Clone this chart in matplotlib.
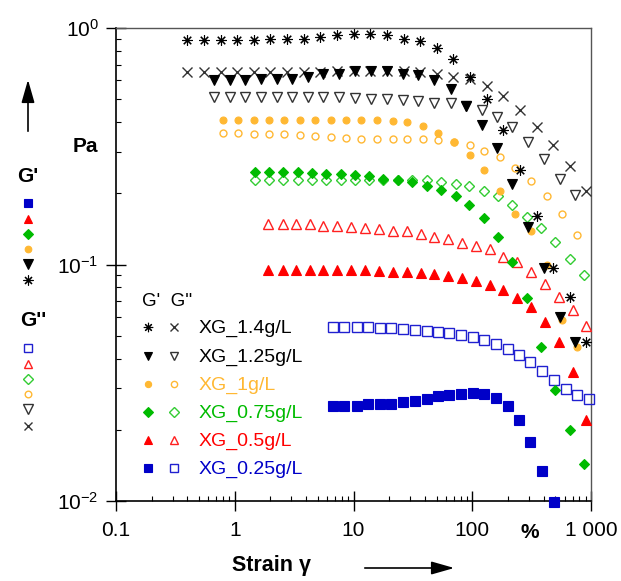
import matplotlib
matplotlib.use("Agg")
import matplotlib.pyplot as plt
from matplotlib.ticker import FixedLocator, LogLocator, NullFormatter

plt.rcParams['font.family'] = ['Liberation Sans', 'DejaVu Sans']
plt.rcParams['mathtext.fontset'] = 'custom'
plt.rcParams['mathtext.rm'] = 'Liberation Sans'
plt.rcParams['mathtext.bf'] = 'Liberation Sans:bold'

# strain (%) and moduli (Pa)
strain_14 = [0.40, 0.552, 0.762, 1.05, 1.45, 2.00, 2.77, 3.82, 5.27, 7.28, 10.0, 13.9,
             19.1, 26.4, 36.5, 50.4, 69.5, 95.9, 132, 183, 252, 348, 481, 664, 916]
gp_14 = [0.89, 0.89, 0.89, 0.89, 0.89, 0.90, 0.90, 0.90, 0.92, 0.93, 0.94, 0.94,
         0.93, 0.90, 0.88, 0.82, 0.74, 0.62, 0.50, 0.37, 0.25, 0.16, 0.097, 0.073, 0.047]
gpp_14 = [0.65, 0.65, 0.65, 0.65, 0.65, 0.65, 0.65, 0.65, 0.65, 0.66, 0.66, 0.66,
          0.66, 0.66, 0.65, 0.64, 0.62, 0.61, 0.57, 0.515, 0.45, 0.38, 0.32, 0.26, 0.205]

strain_125 = [0.668, 0.912, 1.22, 1.66, 2.27, 3.03, 4.14, 5.54, 7.55, 10.3, 14.0, 19.1,
              26.1, 34.9, 47.6, 66.2, 88.5, 121, 161, 216, 295, 402, 548, 733]
gp_125 = [0.60, 0.60, 0.60, 0.61, 0.61, 0.61, 0.62, 0.64, 0.64, 0.66, 0.66, 0.66,
          0.64, 0.63, 0.60, 0.55, 0.47, 0.39, 0.31, 0.22, 0.144, 0.097, 0.060, 0.047]
gpp_125 = [0.51, 0.51, 0.51, 0.51, 0.51, 0.51, 0.51, 0.51, 0.51, 0.505, 0.50, 0.50,
           0.497, 0.49, 0.484, 0.48, 0.47, 0.45, 0.42, 0.38, 0.33, 0.28, 0.23, 0.196]

strain_10 = [0.793, 1.07, 1.45, 1.95, 2.60, 3.54, 4.74, 6.43, 8.65, 11.6, 15.7, 21.4,
             28.2, 38.5, 51.5, 70.2, 95.7, 126, 171, 229, 311, 424, 567, 758]
gp_10 = [0.41, 0.41, 0.41, 0.41, 0.41, 0.41, 0.41, 0.41, 0.41, 0.41, 0.41, 0.405,
         0.40, 0.385, 0.36, 0.33, 0.29, 0.25, 0.205, 0.164, 0.138, 0.100, 0.058, 0.045]
gpp_10 = [0.36, 0.36, 0.356, 0.356, 0.356, 0.352, 0.35, 0.347, 0.344, 0.34, 0.339, 0.339,
          0.339, 0.339, 0.335, 0.329, 0.321, 0.302, 0.286, 0.257, 0.225, 0.194, 0.164, 0.133]

strain_075 = [1.48, 1.94, 2.56, 3.39, 4.50, 5.90, 7.80, 10.3, 13.6, 17.8, 23.7, 31.3,
              41.3, 54.2, 72.3, 94.4, 125, 166, 217, 288, 379, 498, 666, 873]
gp_075 = [0.245, 0.245, 0.245, 0.245, 0.243, 0.241, 0.241, 0.238, 0.237, 0.229, 0.228, 0.223,
          0.215, 0.206, 0.194, 0.178, 0.157, 0.131, 0.102, 0.072, 0.045, 0.0295, 0.020, 0.0144]
gpp_075 = [0.228, 0.228, 0.228, 0.228, 0.228, 0.228, 0.228, 0.228, 0.228, 0.228, 0.228, 0.228,
           0.228, 0.224, 0.220, 0.215, 0.205, 0.194, 0.178, 0.159, 0.142, 0.124, 0.106, 0.090]

strain_05 = [1.92, 2.53, 3.26, 4.30, 5.57, 7.31, 9.53, 12.5, 16.4, 21.6, 28.1, 36.8,
             47.9, 62.8, 82.4, 108, 141, 182, 239, 312, 410, 538, 701, 907]
gp_05 = [0.095, 0.095, 0.095, 0.095, 0.095, 0.095, 0.095, 0.095, 0.094, 0.093, 0.093, 0.092,
         0.091, 0.089, 0.088, 0.085, 0.082, 0.078, 0.072, 0.066, 0.057, 0.047, 0.035, 0.022]
gpp_05 = [0.149, 0.149, 0.148, 0.148, 0.145, 0.145, 0.144, 0.142, 0.141, 0.139, 0.138, 0.134,
          0.131, 0.128, 0.123, 0.120, 0.116, 0.108, 0.102, 0.093, 0.083, 0.073, 0.064, 0.055]

strain_025 = [6.71, 8.32, 10.7, 13.2, 16.7, 20.7, 26.1, 32.9, 41.5, 51.5, 63.7, 80.4,
              101, 126, 159, 200, 248, 306, 387, 488, 612, 759, 957]
gp_025 = [0.0251, 0.0251, 0.0253, 0.0256, 0.0256, 0.0258, 0.0263, 0.0265, 0.0271, 0.0277,
          0.0281, 0.0284, 0.0286, 0.0283, 0.0273, 0.0253, 0.0220, 0.0178, 0.0134, 0.0099]
gpp_025 = [0.0545, 0.0545, 0.0545, 0.0545, 0.0539, 0.0537, 0.0534, 0.0529, 0.0524, 0.0519,
           0.0514, 0.0504, 0.0494, 0.0478, 0.0463, 0.0441, 0.0415, 0.0388, 0.0356, 0.0324,
           0.0297, 0.0281, 0.0270]

labels = ['XG_1.4g/L', 'XG_1.25g/L', 'XG_1g/L', 'XG_0.75g/L', 'XG_0.5g/L', 'XG_0.25g/L']
colors = ['black', 'black', '#FFB833', '#00BB00', '#FF0000', '#0000C8']
open_colors = ['#333333', '#333333', '#FFB833', '#33CC33', '#FF2020', '#2020D0']
filled_mk = [((8, 2, 0), 7.5), ('v', 7), ('o', 5), ('D', 5.2), ('^', 6.5), ('s', 6.5)]
open_mk = [('x', 6.5), ('v', 7), ('o', 5), ('D', 5.2), ('^', 6.5), ('s', 6.5)]

strains = [strain_14, strain_125, strain_10, strain_075, strain_05, strain_025]
gps = [gp_14, gp_125, gp_10, gp_075, gp_05, gp_025]
gpps = [gpp_14, gpp_125, gpp_10, gpp_075, gpp_05, gpp_025]

W, H = 621, 581
fig = plt.figure(figsize=(W / 100, H / 100), dpi=100)
ax = fig.add_axes([116 / W, 1 - 501 / H, 475 / W, 473 / H])

# open symbols (G'') first, filled (G') on top
for i in range(5, -1, -1):
    x = strains[i]
    mk, ms = open_mk[i]
    ax.plot(x[:len(gpps[i])], gpps[i], linestyle='none', marker=mk, ms=ms,
            mfc='none', mec=open_colors[i], mew=1.0, clip_on=False, zorder=3)
for i in range(5, -1, -1):
    x = strains[i]
    mk, ms = filled_mk[i]
    ax.plot(x[:len(gps[i])], gps[i], linestyle='none', marker=mk, ms=ms,
            color=colors[i], mec=colors[i], mew=0.8, clip_on=False, zorder=4)

ax.set_xscale('log')
ax.set_yscale('log')
ax.set_xlim(0.1, 1000)
ax.set_ylim(0.01, 1.0)

ax.xaxis.set_major_locator(FixedLocator([0.1, 1, 10, 100, 1000]))
ax.set_xticklabels(['0.1', '1', '10', '100', '1 000'])
ax.xaxis.set_minor_locator(LogLocator(base=10, subs=range(2, 10)))
ax.xaxis.set_minor_formatter(NullFormatter())
ax.yaxis.set_major_locator(FixedLocator([0.01, 0.1, 1.0]))
ax.set_yticklabels([r'$\mathdefault{10^{-2}}$', r'$\mathdefault{10^{-1}}$', r'$\mathdefault{10^{0}}$'])
ax.yaxis.set_minor_locator(LogLocator(base=10, subs=range(2, 10)))
ax.yaxis.set_minor_formatter(NullFormatter())

ax.tick_params(which='major', direction='inout', length=15, width=1.0, labelsize=15, color='black')
ax.tick_params(axis='x', which='major', pad=7)
ax.tick_params(axis='y', which='major', pad=5)
ax.tick_params(which='minor', direction='in', length=3.5, width=0.8)
ax.tick_params(top=False, right=False, which='both')

for s in ['left', 'bottom']:
    ax.spines[s].set_linewidth(1.2)
for s in ['top', 'right']:
    ax.spines[s].set_color('#555555')
    ax.spines[s].set_linewidth(1.0)

# annotation layer in pixel coordinates
ov = fig.add_axes([0, 0, 1, 1], zorder=5)
ov.set_xlim(0, W)
ov.set_ylim(H, 0)
ov.axis('off')
ov.patch.set_visible(False)

ov.annotate('', xy=(28, 77), xytext=(28, 134),
            arrowprops=dict(arrowstyle='-|>,head_length=1.4,head_width=0.4', color='black', lw=1.2))
ov.annotate('', xy=(457, 568), xytext=(362, 568),
            arrowprops=dict(arrowstyle='-|>,head_length=1.4,head_width=0.4', color='black', lw=1.2))
ov.text(85, 147, 'Pa', fontsize=15, fontweight='bold', ha='center', va='center')
ov.text(28, 176, "G'", fontsize=15, fontweight='bold', ha='center', va='center')
ov.text(33, 321, "G''", fontsize=15, fontweight='bold', ha='center', va='center')
ov.text(271, 566, 'Strain \u03b3', fontsize=15.5, fontweight='bold', ha='center', va='center')
ov.text(530, 533, '%', fontsize=15, fontweight='bold', ha='center', va='center')

# side key: G' (filled) and G'' (open), bottom-up from 0.25 g/L
side_gp_y = [280, 264, 249, 234, 219, 203]
side_gpp_y = [426, 409, 394, 379, 364, 348]
for i in range(6):
    mk, ms = filled_mk[i]
    ov.plot(28, side_gp_y[i], linestyle='none', marker=mk, ms=ms * 0.95,
            color=colors[i], mec=colors[i], mew=0.8)
    mk, ms = open_mk[i]
    ov.plot(28, side_gpp_y[i], linestyle='none', marker=mk, ms=ms * 0.95,
            mfc='none', mec=open_colors[i], mew=1.0)

# in-plot key
ov.text(142, 302, "G'  G''", fontsize=13.5, ha='left', va='center')
key_y = [327, 356, 384, 412, 440, 468]
for i in range(6):
    mk, ms = filled_mk[i]
    ov.plot(148, key_y[i], linestyle='none', marker=mk, ms=ms * 0.9,
            color=colors[i], mec=colors[i], mew=0.8)
    mk, ms = open_mk[i]
    ov.plot(174, key_y[i], linestyle='none', marker=mk, ms=ms * 0.9,
            mfc='none', mec=open_colors[i], mew=1.0)
    ov.text(199, key_y[i] + 1, labels[i], fontsize=14, color=colors[i], ha='left', va='center')

fig.savefig('out.png', dpi=100)
